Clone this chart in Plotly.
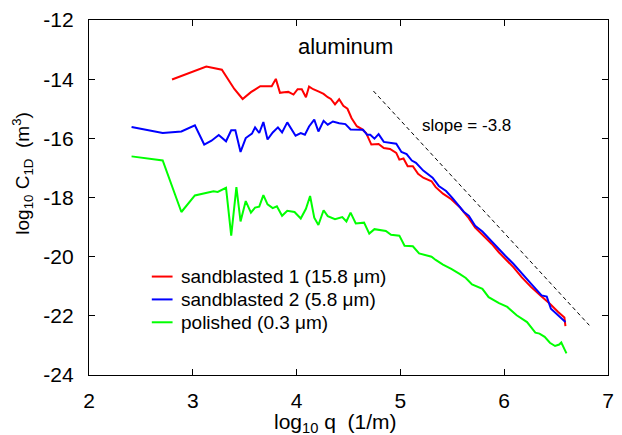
import plotly.graph_objects as go

# ---- data (log10 q, log10 C1D) ----
red_x = [2.80, 3.13, 3.28, 3.40, 3.48, 3.56, 3.65, 3.76, 3.80, 3.84, 3.88, 3.92, 3.97, 4.01, 4.05,
         4.09, 4.12, 4.16, 4.22, 4.26, 4.30, 4.33, 4.37, 4.41, 4.45, 4.49, 4.53, 4.58, 4.63, 4.67,
         4.72, 4.79, 4.84, 4.90, 4.96, 4.99, 5.03, 5.07, 5.12, 5.17, 5.22, 5.30, 5.34, 5.41, 5.49,
         5.57, 5.65, 5.72, 5.80, 5.88, 5.95, 6.01, 6.09, 6.17, 6.26, 6.36, 6.44, 6.52, 6.58, 6.59]
red_y = [-14.01, -13.57, -13.68, -14.33, -14.67, -14.44, -14.24, -14.24, -13.99, -14.46, -14.44, -14.43,
         -14.52, -14.34, -14.34, -14.61, -14.25, -14.34, -14.43, -14.50, -14.61, -14.67, -14.85, -14.68,
         -14.90, -15.00, -15.32, -15.59, -15.69, -15.82, -16.21, -16.19, -16.33, -16.36, -16.49, -16.72,
         -16.68, -16.94, -16.94, -17.20, -17.33, -17.45, -17.65, -17.87, -18.06, -18.32, -18.66, -19.02,
         -19.29, -19.57, -19.86, -20.08, -20.36, -20.70, -21.03, -21.35, -21.59, -21.87, -22.06, -22.35]

blue_x = [2.41, 2.71, 2.89, 3.02, 3.11, 3.18, 3.25, 3.32, 3.37, 3.41, 3.46, 3.51, 3.57, 3.60, 3.64,
          3.68, 3.72, 3.77, 3.82, 3.86, 3.91, 3.95, 3.99, 4.04, 4.08, 4.12, 4.17, 4.21, 4.26, 4.30,
          4.35, 4.41, 4.47, 4.52, 4.57, 4.64, 4.68, 4.71, 4.75, 4.79, 4.84, 4.90, 4.96, 5.01, 5.06,
          5.11, 5.15, 5.22, 5.26, 5.31, 5.37, 5.44, 5.50, 5.55, 5.61, 5.66, 5.72, 5.79, 5.87, 5.95,
          6.01, 6.09, 6.17, 6.26, 6.36, 6.41, 6.45, 6.52, 6.59]
blue_y = [-15.62, -15.82, -15.77, -15.56, -16.21, -16.08, -15.89, -16.10, -15.73, -15.73, -16.46, -15.99,
          -15.84, -15.63, -15.82, -15.45, -16.04, -15.80, -15.63, -15.80, -15.46, -15.71, -15.91, -15.82,
          -15.88, -15.60, -15.37, -15.77, -15.41, -15.54, -15.43, -15.49, -15.52, -15.70, -15.71, -15.71,
          -15.88, -15.88, -16.01, -15.86, -16.12, -16.16, -16.18, -16.46, -16.53, -16.75, -16.83, -17.09,
          -17.20, -17.33, -17.61, -17.78, -18.01, -18.23, -18.48, -18.62, -18.96, -19.15, -19.46, -19.74,
          -19.97, -20.25, -20.58, -20.92, -21.31, -21.35, -21.76, -21.98, -22.21]

green_x = [2.41, 2.71, 2.89, 3.02, 3.20, 3.24, 3.32, 3.37, 3.42, 3.46, 3.51, 3.56, 3.60, 3.64, 3.68,
           3.72, 3.77, 3.81, 3.86, 3.91, 3.98, 4.04, 4.09, 4.13, 4.17, 4.21, 4.26, 4.30, 4.37, 4.44,
           4.48, 4.52, 4.57, 4.65, 4.70, 4.75, 4.86, 4.91, 4.99, 5.04, 5.12, 5.18, 5.30, 5.34, 5.41,
           5.49, 5.57, 5.63, 5.69, 5.79, 5.85, 5.95, 6.03, 6.12, 6.22, 6.30, 6.34, 6.39, 6.44, 6.49,
           6.53, 6.55, 6.57, 6.60]
green_y = [-16.61, -16.75, -18.49, -17.93, -17.79, -17.81, -17.67, -19.29, -17.65, -18.81, -18.12, -18.51,
           -18.34, -18.31, -17.92, -18.23, -18.36, -18.30, -18.62, -18.45, -18.49, -18.71, -18.38, -17.95,
           -18.68, -18.93, -18.43, -18.63, -18.73, -18.66, -18.81, -18.51, -18.88, -18.85, -19.22, -19.07,
           -19.13, -19.26, -19.29, -19.63, -19.65, -19.89, -20.00, -20.11, -20.27, -20.41, -20.58, -20.72,
           -20.94, -21.09, -21.37, -21.57, -21.70, -21.98, -22.21, -22.57, -22.60, -22.71, -22.91, -23.02,
           -22.97, -22.90, -23.05, -23.27]

slope_x = [4.74, 6.82]
slope_y = [-14.40, -22.32]

series_names = ["sandblasted 1 (15.8 \u03bcm)", "sandblasted 2 (5.8 \u03bcm)", "polished (0.3 \u03bcm)"]
series_colors = ["#ff0000", "#0000ff", "#00ff00"]

x_ticks = [2, 3, 4, 5, 6, 7]
x_tick_labels = ["2", "3", "4", "5", "6", "7"]
y_ticks = [-24, -22, -20, -18, -16, -14, -12]
y_tick_labels = ["-24", "-22", "-20", "-18", "-16", "-14", "-12"]

FONT = "Liberation Sans, Arial, Helvetica, sans-serif"

fig = go.Figure()
for xs, ys, name, col in zip([red_x, blue_x, green_x], [red_y, blue_y, green_y], series_names, series_colors):
    fig.add_trace(go.Scatter(x=xs, y=ys, mode="lines", name=name, showlegend=False,
                             line=dict(color=col, width=2)))

fig.add_trace(go.Scatter(x=slope_x, y=slope_y, mode="lines", showlegend=False,
                         line=dict(color="black", width=1, dash="4px,3px")))

fig.add_annotation(x=4.47, y=-12.91, text="aluminum", showarrow=False,
                   font=dict(family=FONT, size=22, color="black"))
fig.add_annotation(x=5.64, y=-15.56, text="slope = -3.8", showarrow=False,
                   font=dict(family=FONT, size=17, color="black"))

# legend (key lines + labels), placed in paper coordinates
leg_x0, leg_x1, leg_tx = 0.121, 0.161, 0.1735
leg_y0, leg_dy = 0.2773, 0.0644
for i, (name, col) in enumerate(zip(series_names, series_colors)):
    yy = leg_y0 - i * leg_dy
    fig.add_shape(type="line", xref="paper", yref="paper", x0=leg_x0, x1=leg_x1, y0=yy, y1=yy,
                  line=dict(color=col, width=2))
    fig.add_annotation(xref="paper", yref="paper", x=leg_tx, y=yy, xanchor="left", yanchor="middle",
                       text=name, showarrow=False, font=dict(family=FONT, size=19, color="black"))

# axis titles
fig.add_annotation(xref="paper", yref="paper", x=0.4743, y=-0.134, xanchor="center", yanchor="middle",
                   text="log<sub>10</sub> q  (1/m)", showarrow=False,
                   font=dict(family=FONT, size=21, color="black"))
fig.add_annotation(xref="paper", yref="paper", x=-0.128, y=0.5686, xanchor="center", yanchor="middle",
                   text="log<sub>10</sub> C<sub>1D</sub>  (m<sup>3</sup>)", showarrow=False, textangle=-90,
                   font=dict(family=FONT, size=19, color="black"))

axis_common = dict(showline=True, linecolor="black", linewidth=1.2, mirror="allticks",
                   ticks="inside", ticklen=6, tickwidth=1, tickcolor="black",
                   showgrid=False, zeroline=False,
                   tickfont=dict(family=FONT, size=21, color="black"))

fig.update_xaxes(range=[2, 7], tickvals=x_ticks, ticktext=x_tick_labels, ticklabelstandoff=7,
                 **axis_common)
fig.update_yaxes(range=[-24, -12], tickvals=y_ticks, ticktext=y_tick_labels, ticklabelstandoff=10,
                 **axis_common)

fig.update_layout(
    width=622, height=435, autosize=False,
    margin=dict(l=89, r=8, t=18, b=60),
    paper_bgcolor="white", plot_bgcolor="white",
    font=dict(family=FONT, color="black"),
    showlegend=False,
)

fig.write_html("out.html")
